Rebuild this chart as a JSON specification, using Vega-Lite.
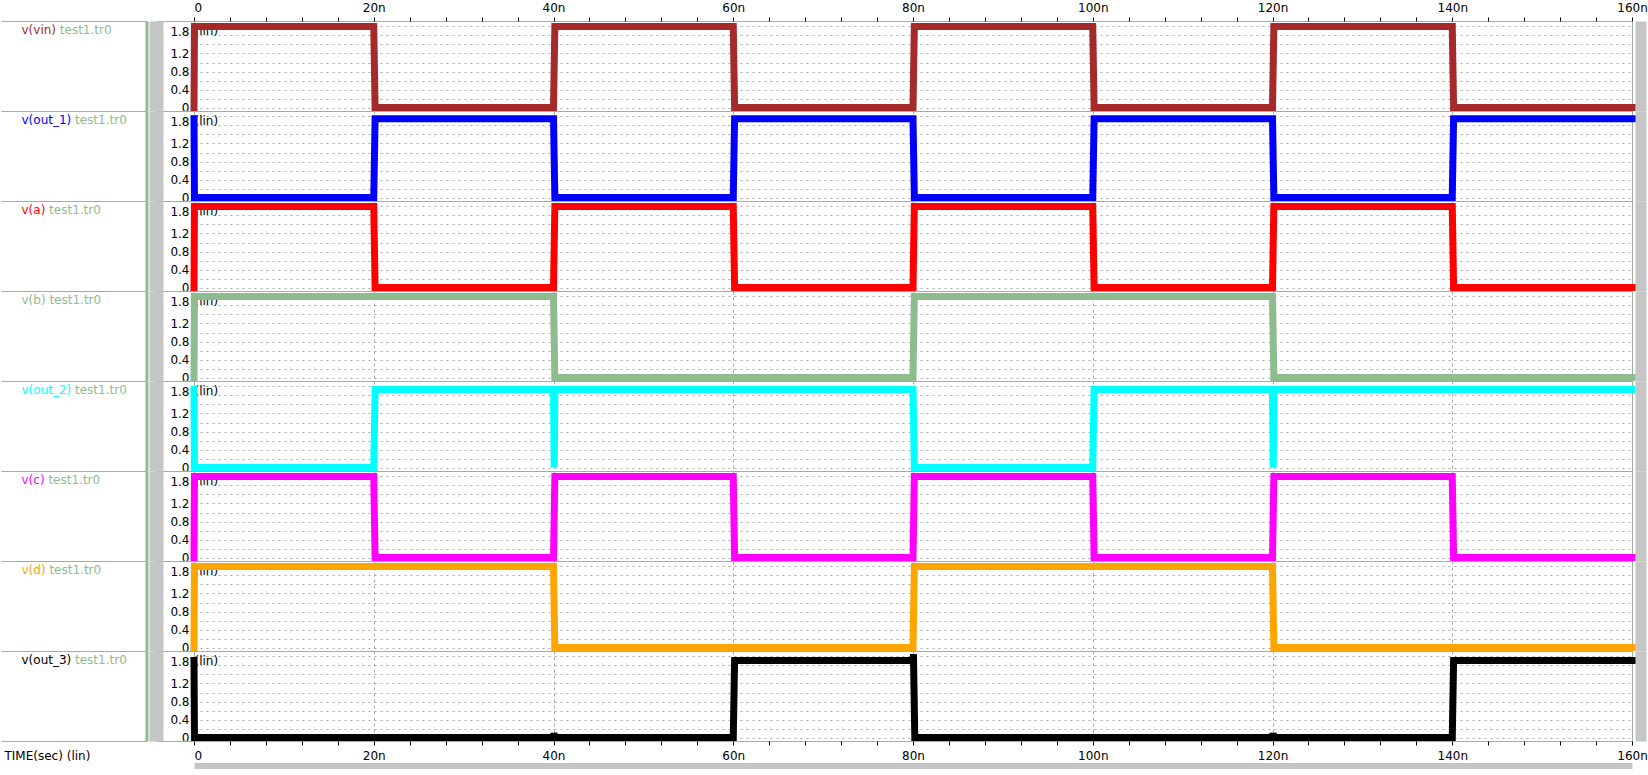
{
"$schema": "https://vega.github.io/schema/vega-lite/v6.json",
"background": "white",
"padding": 0,
"autosize": {"type": "pad"},
"spacing": 0,
"bounds": "flush",
"datasets": {
"vin": [{"t":0,"v":0},{"t":0.05,"v":1.8},{"t":20,"v":1.8},{"t":20.15,"v":0},{"t":40,"v":0},{"t":40.15,"v":1.8},{"t":60,"v":1.8},{"t":60.15,"v":0},{"t":80,"v":0},{"t":80.15,"v":1.8},{"t":100,"v":1.8},{"t":100.15,"v":0},{"t":120,"v":0},{"t":120.15,"v":1.8},{"t":140,"v":1.8},{"t":140.15,"v":0},{"t":160,"v":0}],
"out_1": [{"t":0,"v":1.75},{"t":0.05,"v":0},{"t":20,"v":0},{"t":20.15,"v":1.75},{"t":40,"v":1.75},{"t":40.15,"v":0},{"t":60,"v":0},{"t":60.15,"v":1.75},{"t":80,"v":1.75},{"t":80.15,"v":0},{"t":100,"v":0},{"t":100.15,"v":1.75},{"t":120,"v":1.75},{"t":120.15,"v":0},{"t":140,"v":0},{"t":140.15,"v":1.75},{"t":160,"v":1.75}],
"a": [{"t":0,"v":0},{"t":0.05,"v":1.8},{"t":20,"v":1.8},{"t":20.15,"v":0},{"t":40,"v":0},{"t":40.15,"v":1.8},{"t":60,"v":1.8},{"t":60.15,"v":0},{"t":80,"v":0},{"t":80.15,"v":1.8},{"t":100,"v":1.8},{"t":100.15,"v":0},{"t":120,"v":0},{"t":120.15,"v":1.8},{"t":140,"v":1.8},{"t":140.15,"v":0},{"t":160,"v":0}],
"b": [{"t":0,"v":0},{"t":0.05,"v":1.8},{"t":40,"v":1.8},{"t":40.15,"v":0},{"t":80,"v":0},{"t":80.15,"v":1.8},{"t":120,"v":1.8},{"t":120.15,"v":0},{"t":160,"v":0}],
"out_2": [{"t":0,"v":1.73},{"t":0.05,"v":0},{"t":20,"v":0},{"t":20.15,"v":1.73},{"t":40,"v":1.73},{"t":40.08,"v":0},{"t":40.16,"v":1.73},{"t":80,"v":1.73},{"t":80.15,"v":0},{"t":100,"v":0},{"t":100.15,"v":1.73},{"t":120,"v":1.73},{"t":120.08,"v":0},{"t":120.16,"v":1.73},{"t":160,"v":1.73}],
"c": [{"t":0,"v":0},{"t":0.05,"v":1.8},{"t":20,"v":1.8},{"t":20.15,"v":0},{"t":40,"v":0},{"t":40.15,"v":1.8},{"t":60,"v":1.8},{"t":60.15,"v":0},{"t":80,"v":0},{"t":80.15,"v":1.8},{"t":100,"v":1.8},{"t":100.15,"v":0},{"t":120,"v":0},{"t":120.15,"v":1.8},{"t":140,"v":1.8},{"t":140.15,"v":0},{"t":160,"v":0}],
"d": [{"t":0,"v":0},{"t":0.05,"v":1.8},{"t":40,"v":1.8},{"t":40.15,"v":0},{"t":80,"v":0},{"t":80.15,"v":1.8},{"t":120,"v":1.8},{"t":120.15,"v":0},{"t":160,"v":0}],
"out_3": [{"t":0,"v":1.71},{"t":0.05,"v":0},{"t":40,"v":0},{"t":40.05,"v":0.1},{"t":40.15,"v":0},{"t":60,"v":0},{"t":60.15,"v":1.71},{"t":80,"v":1.71},{"t":80.05,"v":1.85},{"t":80.2,"v":0},{"t":120,"v":0},{"t":120.05,"v":0.1},{"t":120.15,"v":0},{"t":140,"v":0},{"t":140.15,"v":1.71},{"t":160,"v":1.71}]
},
"vconcat": [
{"width":1438,"height":90,"data":{"name":"vin"},
"layer":[
{"mark":{"type":"line","color":"#a52a2a","strokeWidth":7,"strokeCap":"square","strokeJoin":"miter"},
"encoding":{
"x":{"field":"t","type":"quantitative","scale":{"domain":[0,160],"nice":false,"zero":false},"axis":{"orient":"top","values":[0,4,8,12,16,20,24,28,32,36,40,44,48,52,56,60,64,68,72,76,80,84,88,92,96,100,104,108,112,116,120,124,128,132,136,140,144,148,152,156,160],"domain":false,"ticks":true,"tickSize":4,"tickColor":"#000000","labels":true,"labelPadding":3,"labelExpr":"datum.value % 20 == 0 ? (datum.value == 0 ? '0' : datum.value + 'n') : ''","labelAlign":{"condition":{"test":"datum.value == 0","value":"left"},"value":"center"},"grid":true,"gridColor":"#a8a8a8","gridDash":[3,3],"gridOpacity":{"condition":{"test":"datum.value % 20 == 0","value":1},"value":0},"title":null}},
"y":{"field":"v","type":"quantitative","scale":{"domain":[-0.075,1.92],"nice":false,"zero":false},"axis":{"orient":"left","values":[0,0.2,0.4,0.6,0.8,1,1.2,1.4,1.6,1.8],"domain":false,"ticks":false,"grid":true,"gridColor":"#a8a8a8","gridDash":[2,4],"labels":true,"format":"~g","labelExpr":"(datum.value == 0 || datum.value == 0.4 || datum.value == 0.8 || datum.value == 1.2 || datum.value == 1.8) ? datum.label : ''","labelPadding":5,"labelBaseline":{"condition":{"test":"datum.value >= 1.8","value":"top"},"value":"middle"},"title":"v(vin)","titleColor":"#a52a2a","titleX":-173,"titleY":8}}}},
{"mark":{"type":"line","opacity":0},"encoding":{"x":{"field":"t","type":"quantitative","scale":{"domain":[0,160],"nice":false,"zero":false},"axis":null},"y":{"field":"v","type":"quantitative","scale":{"domain":[-0.075,1.92],"nice":false,"zero":false},"axis":{"orient":"left","offset":38,"domain":true,"domainColor":"#c6c6c6","domainWidth":14,"grid":false,"labels":false,"ticks":true,"tickSize":-38,"tickColor":"#8fbc8f","values":[2.3634,1.92,-0.075],"title":"test1.tr0","titleColor":"#8fbc8f","titleX":-96.7,"titleY":8}}}},
{"mark":{"type":"line","opacity":0},"encoding":{"x":{"field":"t","type":"quantitative","scale":{"domain":[0,160],"nice":false,"zero":false},"axis":null},"y":{"field":"v","type":"quantitative","scale":{"domain":[-0.075,1.92],"nice":false,"zero":false},"axis":{"orient":"left","offset":47.5,"domain":true,"domainColor":"#8fbc8f","domainWidth":3,"grid":false,"labels":false,"ticks":true,"tickSize":145.5,"tickColor":"#8fbc8f","values":[2.3634,1.92,-0.075],"title":"(lin)","titleColor":"#000000","titleX":47.5,"titleY":9}}}},
{"mark":{"type":"line","opacity":0},"encoding":{"x":{"field":"t","type":"quantitative","scale":{"domain":[0,160],"nice":false,"zero":false},"axis":null},"y":{"field":"v","type":"quantitative","scale":{"domain":[-0.075,1.92],"nice":false,"zero":false},"axis":{"orient":"right","offset":8.5,"domain":true,"domainColor":"#c6c6c6","domainWidth":11,"grid":false,"labels":false,"ticks":true,"tickSize":-1446.5,"tickColor":"#8fbc8f","values":[2.3634],"title":null}}}}
],
"resolve":{"axis":{"x":"independent","y":"independent"}}},

{"width":1438,"height":90,"data":{"name":"out_1"},
"layer":[
{"mark":{"type":"line","color":"#0000ff","strokeWidth":7,"strokeCap":"square","strokeJoin":"miter"},
"encoding":{
"x":{"field":"t","type":"quantitative","scale":{"domain":[0,160],"nice":false,"zero":false},"axis":{"orient":"bottom","values":[0,20,40,60,80,100,120,140,160],"domain":false,"ticks":false,"labels":false,"grid":true,"gridColor":"#a8a8a8","gridDash":[3,3],"title":null}},
"y":{"field":"v","type":"quantitative","scale":{"domain":[-0.075,1.92],"nice":false,"zero":false},"axis":{"orient":"left","values":[0,0.2,0.4,0.6,0.8,1,1.2,1.4,1.6,1.8],"domain":false,"ticks":false,"grid":true,"gridColor":"#a8a8a8","gridDash":[2,4],"labels":true,"format":"~g","labelExpr":"(datum.value == 0 || datum.value == 0.4 || datum.value == 0.8 || datum.value == 1.2 || datum.value == 1.8) ? datum.label : ''","labelPadding":5,"labelBaseline":{"condition":{"test":"datum.value >= 1.8","value":"top"},"value":"middle"},"title":"v(out_1)","titleColor":"#0000ff","titleX":-173,"titleY":8}}}},
{"mark":{"type":"line","opacity":0},"encoding":{"x":{"field":"t","type":"quantitative","scale":{"domain":[0,160],"nice":false,"zero":false},"axis":null},"y":{"field":"v","type":"quantitative","scale":{"domain":[-0.075,1.92],"nice":false,"zero":false},"axis":{"orient":"left","offset":38,"domain":true,"domainColor":"#c6c6c6","domainWidth":14,"grid":false,"labels":false,"ticks":true,"tickSize":-38,"tickColor":"#8fbc8f","values":[-0.075],"title":"test1.tr0","titleColor":"#8fbc8f","titleX":-81.5,"titleY":8}}}},
{"mark":{"type":"line","opacity":0},"encoding":{"x":{"field":"t","type":"quantitative","scale":{"domain":[0,160],"nice":false,"zero":false},"axis":null},"y":{"field":"v","type":"quantitative","scale":{"domain":[-0.075,1.92],"nice":false,"zero":false},"axis":{"orient":"left","offset":47.5,"domain":true,"domainColor":"#8fbc8f","domainWidth":3,"grid":false,"labels":false,"ticks":true,"tickSize":145.5,"tickColor":"#8fbc8f","values":[-0.075],"title":"(lin)","titleColor":"#000000","titleX":47.5,"titleY":9}}}},
{"mark":{"type":"line","opacity":0},"encoding":{"x":{"field":"t","type":"quantitative","scale":{"domain":[0,160],"nice":false,"zero":false},"axis":null},"y":{"field":"v","type":"quantitative","scale":{"domain":[-0.075,1.92],"nice":false,"zero":false},"axis":{"orient":"right","offset":8.5,"domain":true,"domainColor":"#c6c6c6","domainWidth":11,"grid":false,"labels":false,"ticks":false,"title":null}}}}
],
"resolve":{"axis":{"x":"independent","y":"independent"}}},

{"width":1438,"height":90,"data":{"name":"a"},
"layer":[
{"mark":{"type":"line","color":"#ff0000","strokeWidth":7,"strokeCap":"square","strokeJoin":"miter"},
"encoding":{
"x":{"field":"t","type":"quantitative","scale":{"domain":[0,160],"nice":false,"zero":false},"axis":{"orient":"bottom","values":[0,20,40,60,80,100,120,140,160],"domain":false,"ticks":false,"labels":false,"grid":true,"gridColor":"#a8a8a8","gridDash":[3,3],"title":null}},
"y":{"field":"v","type":"quantitative","scale":{"domain":[-0.075,1.92],"nice":false,"zero":false},"axis":{"orient":"left","values":[0,0.2,0.4,0.6,0.8,1,1.2,1.4,1.6,1.8],"domain":false,"ticks":false,"grid":true,"gridColor":"#a8a8a8","gridDash":[2,4],"labels":true,"format":"~g","labelExpr":"(datum.value == 0 || datum.value == 0.4 || datum.value == 0.8 || datum.value == 1.2 || datum.value == 1.8) ? datum.label : ''","labelPadding":5,"labelBaseline":{"condition":{"test":"datum.value >= 1.8","value":"top"},"value":"middle"},"title":"v(a)","titleColor":"#ff0000","titleX":-173,"titleY":8}}}},
{"mark":{"type":"line","opacity":0},"encoding":{"x":{"field":"t","type":"quantitative","scale":{"domain":[0,160],"nice":false,"zero":false},"axis":null},"y":{"field":"v","type":"quantitative","scale":{"domain":[-0.075,1.92],"nice":false,"zero":false},"axis":{"orient":"left","offset":38,"domain":true,"domainColor":"#c6c6c6","domainWidth":14,"grid":false,"labels":false,"ticks":true,"tickSize":-38,"tickColor":"#8fbc8f","values":[-0.075],"title":"test1.tr0","titleColor":"#8fbc8f","titleX":-107.4,"titleY":8}}}},
{"mark":{"type":"line","opacity":0},"encoding":{"x":{"field":"t","type":"quantitative","scale":{"domain":[0,160],"nice":false,"zero":false},"axis":null},"y":{"field":"v","type":"quantitative","scale":{"domain":[-0.075,1.92],"nice":false,"zero":false},"axis":{"orient":"left","offset":47.5,"domain":true,"domainColor":"#8fbc8f","domainWidth":3,"grid":false,"labels":false,"ticks":true,"tickSize":145.5,"tickColor":"#8fbc8f","values":[-0.075],"title":"(lin)","titleColor":"#000000","titleX":47.5,"titleY":9}}}},
{"mark":{"type":"line","opacity":0},"encoding":{"x":{"field":"t","type":"quantitative","scale":{"domain":[0,160],"nice":false,"zero":false},"axis":null},"y":{"field":"v","type":"quantitative","scale":{"domain":[-0.075,1.92],"nice":false,"zero":false},"axis":{"orient":"right","offset":8.5,"domain":true,"domainColor":"#c6c6c6","domainWidth":11,"grid":false,"labels":false,"ticks":false,"title":null}}}}
],
"resolve":{"axis":{"x":"independent","y":"independent"}}},

{"width":1438,"height":90,"data":{"name":"b"},
"layer":[
{"mark":{"type":"line","color":"#8fbc8f","strokeWidth":7,"strokeCap":"square","strokeJoin":"miter"},
"encoding":{
"x":{"field":"t","type":"quantitative","scale":{"domain":[0,160],"nice":false,"zero":false},"axis":{"orient":"bottom","values":[0,20,40,60,80,100,120,140,160],"domain":false,"ticks":false,"labels":false,"grid":true,"gridColor":"#a8a8a8","gridDash":[3,3],"title":null}},
"y":{"field":"v","type":"quantitative","scale":{"domain":[-0.075,1.92],"nice":false,"zero":false},"axis":{"orient":"left","values":[0,0.2,0.4,0.6,0.8,1,1.2,1.4,1.6,1.8],"domain":false,"ticks":false,"grid":true,"gridColor":"#a8a8a8","gridDash":[2,4],"labels":true,"format":"~g","labelExpr":"(datum.value == 0 || datum.value == 0.4 || datum.value == 0.8 || datum.value == 1.2 || datum.value == 1.8) ? datum.label : ''","labelPadding":5,"labelBaseline":{"condition":{"test":"datum.value >= 1.8","value":"top"},"value":"middle"},"title":"v(b)","titleColor":"#8fbc8f","titleX":-173,"titleY":8}}}},
{"mark":{"type":"line","opacity":0},"encoding":{"x":{"field":"t","type":"quantitative","scale":{"domain":[0,160],"nice":false,"zero":false},"axis":null},"y":{"field":"v","type":"quantitative","scale":{"domain":[-0.075,1.92],"nice":false,"zero":false},"axis":{"orient":"left","offset":38,"domain":true,"domainColor":"#c6c6c6","domainWidth":14,"grid":false,"labels":false,"ticks":true,"tickSize":-38,"tickColor":"#8fbc8f","values":[-0.075],"title":"test1.tr0","titleColor":"#8fbc8f","titleX":-107.1,"titleY":8}}}},
{"mark":{"type":"line","opacity":0},"encoding":{"x":{"field":"t","type":"quantitative","scale":{"domain":[0,160],"nice":false,"zero":false},"axis":null},"y":{"field":"v","type":"quantitative","scale":{"domain":[-0.075,1.92],"nice":false,"zero":false},"axis":{"orient":"left","offset":47.5,"domain":true,"domainColor":"#8fbc8f","domainWidth":3,"grid":false,"labels":false,"ticks":true,"tickSize":145.5,"tickColor":"#8fbc8f","values":[-0.075],"title":"(lin)","titleColor":"#000000","titleX":47.5,"titleY":9}}}},
{"mark":{"type":"line","opacity":0},"encoding":{"x":{"field":"t","type":"quantitative","scale":{"domain":[0,160],"nice":false,"zero":false},"axis":null},"y":{"field":"v","type":"quantitative","scale":{"domain":[-0.075,1.92],"nice":false,"zero":false},"axis":{"orient":"right","offset":8.5,"domain":true,"domainColor":"#c6c6c6","domainWidth":11,"grid":false,"labels":false,"ticks":false,"title":null}}}}
],
"resolve":{"axis":{"x":"independent","y":"independent"}}},

{"width":1438,"height":90,"data":{"name":"out_2"},
"layer":[
{"mark":{"type":"line","color":"#00ffff","strokeWidth":7,"strokeCap":"square","strokeJoin":"miter"},
"encoding":{
"x":{"field":"t","type":"quantitative","scale":{"domain":[0,160],"nice":false,"zero":false},"axis":{"orient":"bottom","values":[0,20,40,60,80,100,120,140,160],"domain":false,"ticks":false,"labels":false,"grid":true,"gridColor":"#a8a8a8","gridDash":[3,3],"title":null}},
"y":{"field":"v","type":"quantitative","scale":{"domain":[-0.075,1.92],"nice":false,"zero":false},"axis":{"orient":"left","values":[0,0.2,0.4,0.6,0.8,1,1.2,1.4,1.6,1.8],"domain":false,"ticks":false,"grid":true,"gridColor":"#a8a8a8","gridDash":[2,4],"labels":true,"format":"~g","labelExpr":"(datum.value == 0 || datum.value == 0.4 || datum.value == 0.8 || datum.value == 1.2 || datum.value == 1.8) ? datum.label : ''","labelPadding":5,"labelBaseline":{"condition":{"test":"datum.value >= 1.8","value":"top"},"value":"middle"},"title":"v(out_2)","titleColor":"#00ffff","titleX":-173,"titleY":8}}}},
{"mark":{"type":"line","opacity":0},"encoding":{"x":{"field":"t","type":"quantitative","scale":{"domain":[0,160],"nice":false,"zero":false},"axis":null},"y":{"field":"v","type":"quantitative","scale":{"domain":[-0.075,1.92],"nice":false,"zero":false},"axis":{"orient":"left","offset":38,"domain":true,"domainColor":"#c6c6c6","domainWidth":14,"grid":false,"labels":false,"ticks":true,"tickSize":-38,"tickColor":"#8fbc8f","values":[-0.075],"title":"test1.tr0","titleColor":"#8fbc8f","titleX":-81.5,"titleY":8}}}},
{"mark":{"type":"line","opacity":0},"encoding":{"x":{"field":"t","type":"quantitative","scale":{"domain":[0,160],"nice":false,"zero":false},"axis":null},"y":{"field":"v","type":"quantitative","scale":{"domain":[-0.075,1.92],"nice":false,"zero":false},"axis":{"orient":"left","offset":47.5,"domain":true,"domainColor":"#8fbc8f","domainWidth":3,"grid":false,"labels":false,"ticks":true,"tickSize":145.5,"tickColor":"#8fbc8f","values":[-0.075],"title":"(lin)","titleColor":"#000000","titleX":47.5,"titleY":9}}}},
{"mark":{"type":"line","opacity":0},"encoding":{"x":{"field":"t","type":"quantitative","scale":{"domain":[0,160],"nice":false,"zero":false},"axis":null},"y":{"field":"v","type":"quantitative","scale":{"domain":[-0.075,1.92],"nice":false,"zero":false},"axis":{"orient":"right","offset":8.5,"domain":true,"domainColor":"#c6c6c6","domainWidth":11,"grid":false,"labels":false,"ticks":false,"title":null}}}}
],
"resolve":{"axis":{"x":"independent","y":"independent"}}},

{"width":1438,"height":90,"data":{"name":"c"},
"layer":[
{"mark":{"type":"line","color":"#ff00ff","strokeWidth":7,"strokeCap":"square","strokeJoin":"miter"},
"encoding":{
"x":{"field":"t","type":"quantitative","scale":{"domain":[0,160],"nice":false,"zero":false},"axis":{"orient":"bottom","values":[0,20,40,60,80,100,120,140,160],"domain":false,"ticks":false,"labels":false,"grid":true,"gridColor":"#a8a8a8","gridDash":[3,3],"title":null}},
"y":{"field":"v","type":"quantitative","scale":{"domain":[-0.075,1.92],"nice":false,"zero":false},"axis":{"orient":"left","values":[0,0.2,0.4,0.6,0.8,1,1.2,1.4,1.6,1.8],"domain":false,"ticks":false,"grid":true,"gridColor":"#a8a8a8","gridDash":[2,4],"labels":true,"format":"~g","labelExpr":"(datum.value == 0 || datum.value == 0.4 || datum.value == 0.8 || datum.value == 1.2 || datum.value == 1.8) ? datum.label : ''","labelPadding":5,"labelBaseline":{"condition":{"test":"datum.value >= 1.8","value":"top"},"value":"middle"},"title":"v(c)","titleColor":"#ff00ff","titleX":-173,"titleY":8}}}},
{"mark":{"type":"line","opacity":0},"encoding":{"x":{"field":"t","type":"quantitative","scale":{"domain":[0,160],"nice":false,"zero":false},"axis":null},"y":{"field":"v","type":"quantitative","scale":{"domain":[-0.075,1.92],"nice":false,"zero":false},"axis":{"orient":"left","offset":38,"domain":true,"domainColor":"#c6c6c6","domainWidth":14,"grid":false,"labels":false,"ticks":true,"tickSize":-38,"tickColor":"#8fbc8f","values":[-0.075],"title":"test1.tr0","titleColor":"#8fbc8f","titleX":-108.1,"titleY":8}}}},
{"mark":{"type":"line","opacity":0},"encoding":{"x":{"field":"t","type":"quantitative","scale":{"domain":[0,160],"nice":false,"zero":false},"axis":null},"y":{"field":"v","type":"quantitative","scale":{"domain":[-0.075,1.92],"nice":false,"zero":false},"axis":{"orient":"left","offset":47.5,"domain":true,"domainColor":"#8fbc8f","domainWidth":3,"grid":false,"labels":false,"ticks":true,"tickSize":145.5,"tickColor":"#8fbc8f","values":[-0.075],"title":"(lin)","titleColor":"#000000","titleX":47.5,"titleY":9}}}},
{"mark":{"type":"line","opacity":0},"encoding":{"x":{"field":"t","type":"quantitative","scale":{"domain":[0,160],"nice":false,"zero":false},"axis":null},"y":{"field":"v","type":"quantitative","scale":{"domain":[-0.075,1.92],"nice":false,"zero":false},"axis":{"orient":"right","offset":8.5,"domain":true,"domainColor":"#c6c6c6","domainWidth":11,"grid":false,"labels":false,"ticks":false,"title":null}}}}
],
"resolve":{"axis":{"x":"independent","y":"independent"}}},

{"width":1438,"height":90,"data":{"name":"d"},
"layer":[
{"mark":{"type":"line","color":"#ffa500","strokeWidth":7,"strokeCap":"square","strokeJoin":"miter"},
"encoding":{
"x":{"field":"t","type":"quantitative","scale":{"domain":[0,160],"nice":false,"zero":false},"axis":{"orient":"bottom","values":[0,20,40,60,80,100,120,140,160],"domain":false,"ticks":false,"labels":false,"grid":true,"gridColor":"#a8a8a8","gridDash":[3,3],"title":null}},
"y":{"field":"v","type":"quantitative","scale":{"domain":[-0.075,1.92],"nice":false,"zero":false},"axis":{"orient":"left","values":[0,0.2,0.4,0.6,0.8,1,1.2,1.4,1.6,1.8],"domain":false,"ticks":false,"grid":true,"gridColor":"#a8a8a8","gridDash":[2,4],"labels":true,"format":"~g","labelExpr":"(datum.value == 0 || datum.value == 0.4 || datum.value == 0.8 || datum.value == 1.2 || datum.value == 1.8) ? datum.label : ''","labelPadding":5,"labelBaseline":{"condition":{"test":"datum.value >= 1.8","value":"top"},"value":"middle"},"title":"v(d)","titleColor":"#ffa500","titleX":-173,"titleY":8}}}},
{"mark":{"type":"line","opacity":0},"encoding":{"x":{"field":"t","type":"quantitative","scale":{"domain":[0,160],"nice":false,"zero":false},"axis":null},"y":{"field":"v","type":"quantitative","scale":{"domain":[-0.075,1.92],"nice":false,"zero":false},"axis":{"orient":"left","offset":38,"domain":true,"domainColor":"#c6c6c6","domainWidth":14,"grid":false,"labels":false,"ticks":true,"tickSize":-38,"tickColor":"#8fbc8f","values":[-0.075],"title":"test1.tr0","titleColor":"#8fbc8f","titleX":-107.1,"titleY":8}}}},
{"mark":{"type":"line","opacity":0},"encoding":{"x":{"field":"t","type":"quantitative","scale":{"domain":[0,160],"nice":false,"zero":false},"axis":null},"y":{"field":"v","type":"quantitative","scale":{"domain":[-0.075,1.92],"nice":false,"zero":false},"axis":{"orient":"left","offset":47.5,"domain":true,"domainColor":"#8fbc8f","domainWidth":3,"grid":false,"labels":false,"ticks":true,"tickSize":145.5,"tickColor":"#8fbc8f","values":[-0.075],"title":"(lin)","titleColor":"#000000","titleX":47.5,"titleY":9}}}},
{"mark":{"type":"line","opacity":0},"encoding":{"x":{"field":"t","type":"quantitative","scale":{"domain":[0,160],"nice":false,"zero":false},"axis":null},"y":{"field":"v","type":"quantitative","scale":{"domain":[-0.075,1.92],"nice":false,"zero":false},"axis":{"orient":"right","offset":8.5,"domain":true,"domainColor":"#c6c6c6","domainWidth":11,"grid":false,"labels":false,"ticks":false,"title":null}}}}
],
"resolve":{"axis":{"x":"independent","y":"independent"}}},

{"width":1438,"height":90,"data":{"name":"out_3"},
"layer":[
{"mark":{"type":"line","color":"#000000","strokeWidth":7,"strokeCap":"square","strokeJoin":"miter"},
"encoding":{
"x":{"field":"t","type":"quantitative","scale":{"domain":[0,160],"nice":false,"zero":false},"axis":{"orient":"bottom","values":[0,4,8,12,16,20,24,28,32,36,40,44,48,52,56,60,64,68,72,76,80,84,88,92,96,100,104,108,112,116,120,124,128,132,136,140,144,148,152,156,160],"domain":false,"ticks":true,"tickSize":4,"tickColor":"#000000","labels":true,"labelPadding":5,"labelExpr":"datum.value % 20 == 0 ? (datum.value == 0 ? '0' : datum.value + 'n') : ''","labelAlign":{"condition":{"test":"datum.value == 0","value":"left"},"value":"center"},"grid":true,"gridColor":"#a8a8a8","gridDash":[3,3],"gridOpacity":{"condition":{"test":"datum.value % 20 == 0","value":1},"value":0},"title":"TIME(sec) (lin)","titleColor":"#000000","titleX":-190,"titleY":14}},
"y":{"field":"v","type":"quantitative","scale":{"domain":[-0.075,1.92],"nice":false,"zero":false},"axis":{"orient":"left","values":[0,0.2,0.4,0.6,0.8,1,1.2,1.4,1.6,1.8],"domain":false,"ticks":false,"grid":true,"gridColor":"#a8a8a8","gridDash":[2,4],"labels":true,"format":"~g","labelExpr":"(datum.value == 0 || datum.value == 0.4 || datum.value == 0.8 || datum.value == 1.2 || datum.value == 1.8) ? datum.label : ''","labelPadding":5,"labelBaseline":{"condition":{"test":"datum.value >= 1.8","value":"top"},"value":"middle"},"title":"v(out_3)","titleColor":"#000000","titleX":-173,"titleY":8}}}},
{"mark":{"type":"line","opacity":0},"encoding":{"x":{"field":"t","type":"quantitative","scale":{"domain":[0,160],"nice":false,"zero":false},"axis":{"orient":"bottom","offset":27.5,"domain":true,"domainColor":"#c6c6c6","domainWidth":12,"ticks":false,"labels":false,"grid":false,"title":null}},"y":{"field":"v","type":"quantitative","scale":{"domain":[-0.075,1.92],"nice":false,"zero":false},"axis":{"orient":"left","offset":38,"domain":true,"domainColor":"#c6c6c6","domainWidth":14,"grid":false,"labels":false,"ticks":true,"tickSize":-38,"tickColor":"#8fbc8f","values":[-0.075,-0.5185],"title":"test1.tr0","titleColor":"#8fbc8f","titleX":-81.5,"titleY":8}}}},
{"mark":{"type":"line","opacity":0},"encoding":{"x":{"field":"t","type":"quantitative","scale":{"domain":[0,160],"nice":false,"zero":false},"axis":null},"y":{"field":"v","type":"quantitative","scale":{"domain":[-0.075,1.92],"nice":false,"zero":false},"axis":{"orient":"left","offset":47.5,"domain":true,"domainColor":"#8fbc8f","domainWidth":3,"grid":false,"labels":false,"ticks":true,"tickSize":145.5,"tickColor":"#8fbc8f","values":[-0.075,-0.5185],"title":"(lin)","titleColor":"#000000","titleX":47.5,"titleY":9}}}},
{"mark":{"type":"line","opacity":0},"encoding":{"x":{"field":"t","type":"quantitative","scale":{"domain":[0,160],"nice":false,"zero":false},"axis":null},"y":{"field":"v","type":"quantitative","scale":{"domain":[-0.075,1.92],"nice":false,"zero":false},"axis":{"orient":"right","offset":8.5,"domain":true,"domainColor":"#c6c6c6","domainWidth":11,"grid":false,"labels":false,"ticks":true,"tickSize":-1446.5,"tickColor":"#8fbc8f","values":[-0.5185],"title":null}}}}
],
"resolve":{"axis":{"x":"independent","y":"independent"}}}
],
"config":{
"font":"DejaVu Sans",
"view":{"stroke":"#8fbc8f","strokeWidth":1},
"axis":{"labelFont":"DejaVu Sans","labelFontSize":12,"labelColor":"#000000","titleFont":"DejaVu Sans","titleFontSize":12,"titleFontWeight":"normal","titleAngle":0,"titleAlign":"left","titleBaseline":"middle","titlePadding":0,"labelFlush":false,"labelOverlap":false,"tickWidth":1,"domainCap":"butt"}
}
}
